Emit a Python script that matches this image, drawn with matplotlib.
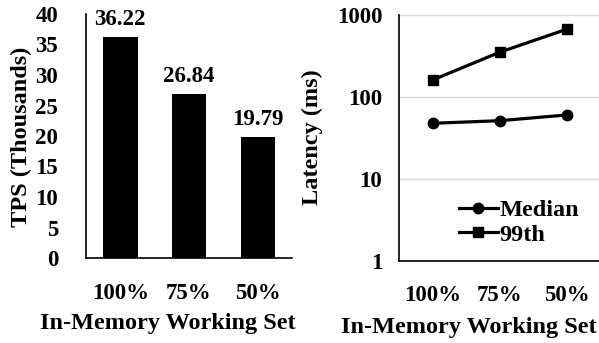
import matplotlib
matplotlib.use("Agg")
import matplotlib.pyplot as plt
from matplotlib.ticker import FixedLocator, NullLocator

plt.rcParams['font.family'] = ['Liberation Serif', 'DejaVu Serif']
plt.rcParams['font.weight'] = 'bold'

categories = ["100%", "75%", "50%"]
tps_thousands = [36.22, 26.84, 19.79]
latency_median = [47.8, 51.4, 60.3]
latency_p99 = [161, 351, 669]

W, H = 599, 343
fig = plt.figure(figsize=(W / 100, H / 100), dpi=100)

def px_axes(x0, y0, x1, y1):
    return fig.add_axes([x0 / W, 1 - y1 / H, (x1 - x0) / W, (y1 - y0) / H])

def fig_text(xp, yp, s, **kw):
    fig.text(xp / W, 1 - yp / H, s, **kw)

tick_fs = 16.5
label_fs = 17.5

# Throughput bars
ax1 = px_axes(86, 14, 292, 258)
x = range(len(categories))
bars = ax1.bar(x, tps_thousands, width=0.5, color='black')
ax1.set_xlim(-0.5, 2.5)
ax1.set_ylim(0, 40)
ax1.set_yticks(range(0, 41, 5))
ax1.set_xticks(list(x))
ax1.set_xticklabels(categories)
for s in ['top', 'right']:
    ax1.spines[s].set_visible(False)
ax1.spines['left'].set_linewidth(1.2)
ax1.spines['bottom'].set_linewidth(1.2)
ax1.tick_params(axis='both', length=0, labelsize=tick_fs)
ax1.tick_params(axis='x', pad=18)
ax1.tick_params(axis='y', pad=20)
for b, v in zip(bars, tps_thousands):
    ax1.annotate(f"{v:.2f}", (b.get_x() + b.get_width() / 2, v),
                 xytext=(0, 5), textcoords='offset points',
                 ha='center', va='bottom', fontsize=tick_fs, fontweight='bold',
                 annotation_clip=False)
fig_text(21, 137, "TPS (Thousands)", rotation=90, ha='center', va='center',
         fontsize=label_fs, fontweight='bold')
fig_text(168, 324, "In-Memory Working Set", ha='center', va='center',
         fontsize=label_fs, fontweight='bold')

# Latency lines (log scale)
ax2 = px_axes(399, 15, 600, 261)
ax2.set_yscale('log')
ax2.set_ylim(1, 1000)
ax2.set_xlim(-0.5, 2.5)
ax2.yaxis.set_major_locator(FixedLocator([1, 10, 100, 1000]))
ax2.yaxis.set_minor_locator(NullLocator())
ax2.set_yticklabels(["1", "10", "100", "1000"])
ax2.grid(axis='y', color='#d9d9d9', linewidth=1)
ax2.set_axisbelow(True)
ax2.plot(list(x), latency_median, color='black', lw=2.3, marker='o', ms=7.5, label='Median')
ax2.plot(list(x), latency_p99, color='black', lw=2.3, marker='s', ms=7.5, label='99th')
ax2.set_xticks(list(x))
ax2.set_xticklabels(categories)
for s in ['top', 'right']:
    ax2.spines[s].set_visible(False)
ax2.spines['left'].set_linewidth(1.2)
ax2.spines['bottom'].set_linewidth(1.2)
ax2.tick_params(axis='both', length=0, labelsize=tick_fs)
ax2.tick_params(axis='x', pad=17)
ax2.tick_params(axis='y', pad=12)
fig_text(312, 137, "Latency (ms)", rotation=90, ha='center', va='center',
         fontsize=label_fs, fontweight='bold')
fig_text(469, 327, "In-Memory Working Set", ha='center', va='center',
         fontsize=label_fs, fontweight='bold')
ax2.legend(loc='upper left', bbox_to_anchor=(459 / W, 1 - 199 / H),
           bbox_transform=fig.transFigure, frameon=False,
           borderpad=0, borderaxespad=0, handlelength=1.6, handletextpad=0.05,
           labelspacing=0.12, prop={'weight': 'bold', 'size': label_fs})

fig.savefig("out.png", dpi=100)
